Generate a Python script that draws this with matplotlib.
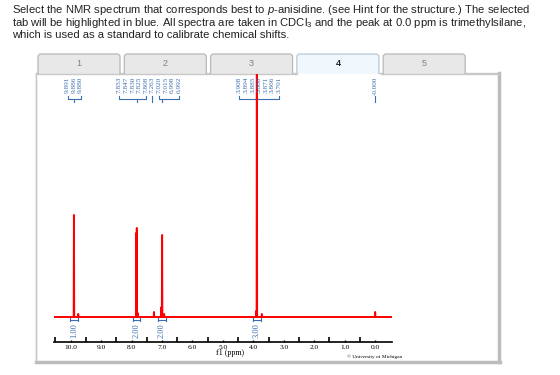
import matplotlib.pyplot as plt
from matplotlib.patches import FancyBboxPatch, Rectangle
from matplotlib.transforms import blended_transform_factory

plt.rcParams["mathtext.fontset"] = "custom"
plt.rcParams["mathtext.rm"] = "Liberation Sans"
plt.rcParams["mathtext.it"] = "Liberation Sans:italic"

# ==============================
# Data
# ==============================
question = [
    "Select the NMR spectrum that corresponds best to $\\mathit{p}$-anisidine. (see Hint for the structure.) The selected",
    "tab will be highlighted in blue. All spectra are taken in CDCl$_\\mathrm{3}$ and the peak at 0.0 ppm is trimethylsilane,",
    "which is used as a standard to calibrate chemical shifts.",
]
tab_labels = ["1", "2", "3", "4", "5"]
selected_tab = "4"

# peak position (ppm) and height (arbitrary units, baseline = 0)
peak_ppm = [9.891, 9.75, 7.845, 7.826, 7.80, 7.263, 7.016, 6.996, 6.93,
            3.90, 3.884, 3.72, 0.0]
peak_height = [102, 3, 84, 89, 4, 5, 10, 82, 3, 6, 300, 3, 5]

# peak-picking labels: clusters of (target ppm, labels)
cluster_1 = [(9.886, ["9.891", "9.886", "9.880"])]
cluster_2 = [(7.835, ["7.853", "7.847", "7.830", "7.825", "7.808"]),
             (7.263, ["7.263"]),
             (7.006, ["7.020", "7.015", "6.998", "6.992"])]
cluster_3 = [(3.884, ["3.908", "3.894", "3.885", "3.880", "3.871", "3.866", "3.701"])]
cluster_4 = [(0.0, ["-0.000"])]

# integrals
integral_ppm = [9.89, 7.83, 7.00, 3.88]
integral_values = ["1.00", "2.00", "2.00", "3.00"]

xticks_major = [10, 9, 8, 7, 6, 5, 4, 3, 2, 1, 0]
xticks_minor = [10.5, 9.5, 8.5, 7.5, 6.5, 5.5, 4.5, 3.5, 2.5, 1.5, 0.5]

# ==============================
# Figure and overlay (pixel coordinates)
# ==============================
fig = plt.figure(figsize=(5.6, 3.75), dpi=100)
ov = fig.add_axes([0, 0, 1, 1])
ov.set_xlim(0, 560)
ov.set_ylim(375, 0)
ov.axis("off")

for i, line in enumerate(question):
    ov.text(12, 10 + i * 12.6, line, fontsize=8.1, family="Liberation Sans",
            color="#222222", va="center")

# panel box
ov.add_patch(Rectangle((36, 73), 463, 289, fill=False, ec="#c8c8c8", lw=1))
ov.plot([499, 499], [73, 362], color="#bcbcbc", lw=2.5)
ov.plot([36, 500], [362, 362], color="#bcbcbc", lw=2.5)

# tabs
tab_w, tab_gap = 82, 4.3
for i, lab in enumerate(tab_labels):
    x0 = 38 + i * (tab_w + tab_gap)
    sel = lab == selected_tab
    ov.add_patch(FancyBboxPatch((x0, 54), tab_w, 22,
                                boxstyle="round,pad=0,rounding_size=3",
                                fc="#f1f8fd" if sel else "#e8e8e8",
                                ec="#b8c8d8" if sel else "#b8b8b8", lw=0.9))
    ov.text(x0 + tab_w / 2, 63.5, lab, fontsize=6.5, family="Liberation Sans",
            ha="center", va="center",
            color="#222222" if sel else "#808080",
            fontweight="bold" if sel else "normal")
ov.add_patch(Rectangle((36.5, 73.5), 462, 6, fc="white", ec="none"))
ov.plot([36, 38 + 3 * (tab_w + tab_gap)], [73.5, 73.5], color="#c8c8c8", lw=1)
ov.plot([38 + 4 * (tab_w + tab_gap) - 2, 499], [73.5, 73.5], color="#c8c8c8", lw=1)
ov.plot([36, 36], [73, 362], color="#c8c8c8", lw=1)

# ==============================
# Spectrum axes
# ==============================
ax = fig.add_axes([0.0962, 0.088, 0.6036, 0.7147])
ax.patch.set_alpha(0)
ax.set_xlim(10.55, -0.55)
ax.set_ylim(-25, 243)

xs, ys = [10.55], [0]
for p, h in sorted(zip(peak_ppm, peak_height), reverse=True):
    xs += [p + 0.008, p, p - 0.008]
    ys += [0, h, 0]
xs.append(-0.55)
ys.append(0)
ax.plot(xs, ys, color="red", lw=1.4, zorder=3)

for sp in ["top", "left", "right"]:
    ax.spines[sp].set_visible(False)
ax.spines["bottom"].set_linewidth(1.2)
ax.set_yticks([])
ax.set_xticks(xticks_major)
ax.set_xticklabels([f"{t:.1f}" for t in xticks_major], family="Liberation Serif",
                   fontsize=5.3)
ax.set_xticks(xticks_minor, minor=True)
ax.tick_params(axis="x", which="major", direction="in", length=1.5, width=1, pad=2)
ax.tick_params(axis="x", which="minor", direction="in", length=3.5, width=1.2)
ax.set_xlabel("f1 (ppm)", family="Liberation Serif", fontsize=5.8, labelpad=0)
ax.xaxis.set_label_coords(0.52, -0.025)
ax.text(0.95, -0.045, "\u00a9 University of Michigan", transform=ax.transAxes,
        family="Liberation Serif", fontsize=3.8, ha="center", va="top")

blue = "#3a6eb0"
# integrals
for p, v in zip(integral_ppm, integral_values):
    ax.plot([p + 0.12, p - 0.12], [-3, -3], color=blue, lw=0.8)
    ax.plot([p + 0.12, p + 0.12], [-1.5, -4.5], color=blue, lw=0.8)
    ax.plot([p - 0.12, p - 0.12], [-1.5, -4.5], color=blue, lw=0.8)
    ax.text(p, -6, v, rotation=90, ha="center", va="top", color=blue,
            family="Liberation Serif", fontsize=6)

# peak picking labels
tr = blended_transform_factory(ax.transData, ov.transData)
px_per_ppm = 0.6036 * 560 / 11.1
for cluster in [cluster_1, cluster_2, cluster_3, cluster_4]:
    labs = [l for _, ls in cluster for l in ls]
    vals = [float(l) for l in labs]
    centre = (max(vals) + min(vals)) / 2
    step = 6.6 / px_per_ppm
    k = 0
    for target, ls in cluster:
        cols = []
        for l in ls:
            xc = centre + ((len(labs) - 1) / 2 - k) * step
            cols.append(xc)
            ax.text(xc, 77, l, rotation=90, ha="center", va="top", color=blue,
                    family="Liberation Serif", fontsize=5.2, transform=tr)
            k += 1
        if len(cols) > 1:
            ax.plot([cols[0], cols[0], cols[-1], cols[-1]], [96, 99, 99, 96],
                    color=blue, lw=0.8, transform=tr, clip_on=False)
            ax.plot([target, target], [99, 102], color=blue, lw=0.8,
                    transform=tr, clip_on=False)
        else:
            ax.plot([cols[0], cols[0]], [96, 102], color=blue, lw=0.8,
                    transform=tr, clip_on=False)

fig.savefig("out.png", dpi=100)
